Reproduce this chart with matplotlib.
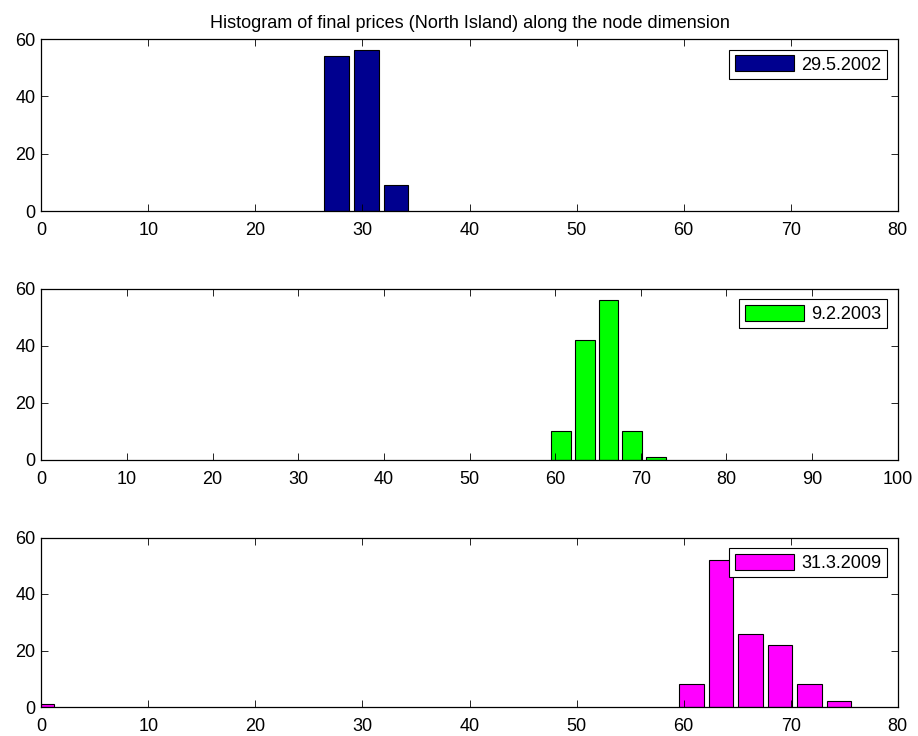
import matplotlib
matplotlib.use('Agg')
import matplotlib.pyplot as plt

plt.rcParams['font.family'] = ['Liberation Sans', 'DejaVu Sans']
plt.rcParams['font.size'] = 13

# bin centres (spacing ~2.76) and counts
bin_w = 2.76
centers_2002 = [27.6, 30.36, 33.12]
counts_2002 = [54, 56, 9]
centers_2003 = [60.72, 63.48, 66.24, 69.0, 71.76]
counts_2003 = [10, 42, 56, 10, 1]
centers_2009 = [0.0, 60.72, 63.48, 66.24, 69.0, 71.76, 74.52]
counts_2009 = [1, 8, 52, 26, 22, 8, 2]

labels = ['29.5.2002', '9.2.2003', '31.3.2009']
colors = [(0, 0, 0.56), (0, 1, 0), (1, 0, 1)]
xmax = [80, 100, 80]
data = [(centers_2002, counts_2002), (centers_2003, counts_2003), (centers_2009, counts_2009)]

fig = plt.figure(figsize=(9.18, 7.36), dpi=100)
W, H = 918, 736
tops = [39, 288.5, 537.5]
bots = [211, 460, 707]
left, right = 41.3, 897.7

for i in range(3):
    ax = fig.add_axes([left / W, 1 - bots[i] / H, (right - left) / W, (bots[i] - tops[i]) / H])
    c, n = data[i]
    ax.bar(c, n, width=bin_w * 0.83, color=colors[i], edgecolor='black', linewidth=0.8,
           label=labels[i])
    ax.set_xlim(0, xmax[i])
    ax.set_ylim(0, 60)
    ax.set_yticks([0, 20, 40, 60])
    ax.set_xticks(range(0, xmax[i] + 1, 10))
    ax.tick_params(direction='in', top=True, right=True, length=5, width=0.6,
                   labelsize=13)
    ax.tick_params(axis='x', pad=8)
    ax.tick_params(axis='y', pad=4)
    for s in ax.spines.values():
        s.set_linewidth(0.9)
    leg = ax.legend(loc='upper right', fancybox=False, framealpha=1, edgecolor='black',
                    handlelength=3.3, handleheight=1.0, borderaxespad=0.6,
                    borderpad=0.3, handletextpad=0.4, fontsize=13)
    leg.get_frame().set_linewidth(0.8)
    if i == 0:
        ax.set_title('Histogram of final prices (North Island) along the node dimension',
                     fontsize=13, pad=8)

fig.savefig('out.png', dpi=100)
